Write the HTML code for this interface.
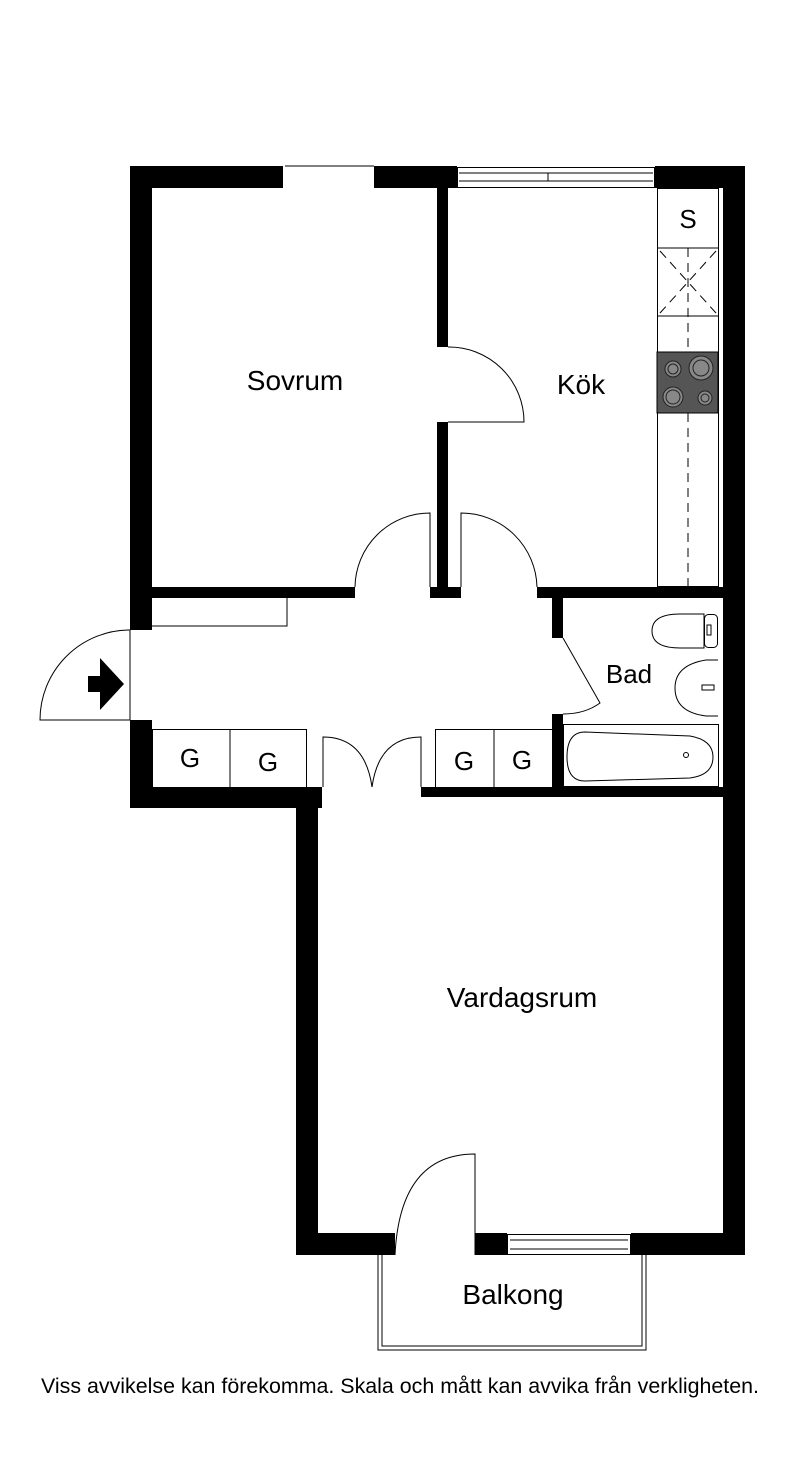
<!DOCTYPE html>
<html><head><meta charset="utf-8"><style>
html,body{margin:0;padding:0;background:#fff;}
svg{display:block;}
text{font-family:"Liberation Sans",sans-serif;fill:#000;}
</style></head><body>
<svg width="800" height="1471" viewBox="0 0 800 1471" xmlns="http://www.w3.org/2000/svg">
<rect width="800" height="1471" fill="#fff"/>
<g fill="#000">
<rect x="130" y="166" width="153" height="22"/>
<rect x="374" y="166" width="83" height="22"/>
<rect x="655" y="166" width="90" height="22"/>
<rect x="130" y="166" width="22" height="464"/>
<rect x="130" y="720" width="22" height="88"/>
<rect x="723" y="166" width="22" height="1089"/>
<rect x="437" y="188" width="11" height="159"/>
<rect x="437" y="422" width="11" height="176"/>
<rect x="152" y="587" width="203" height="11"/>
<rect x="430" y="587" width="31" height="11"/>
<rect x="537" y="587" width="186" height="11"/>
<rect x="552" y="598" width="11" height="40"/>
<rect x="552" y="714" width="11" height="83"/>
<rect x="130" y="787" width="192" height="21"/>
<rect x="421" y="787" width="324" height="10"/>
<rect x="296" y="797" width="22" height="458"/>
<rect x="296" y="1233" width="99" height="22"/>
<rect x="475" y="1233" width="32" height="22"/>
<rect x="631" y="1233" width="114" height="22"/>
</g>
<g fill="none" stroke="#000" stroke-width="1">
<line x1="285" y1="166" x2="374" y2="166"/>
<rect x="457.5" y="167.5" width="197" height="20"/>
<line x1="459" y1="173" x2="653" y2="173"/>
<line x1="459" y1="181" x2="653" y2="181"/>
<line x1="548" y1="173" x2="548" y2="181"/>
<rect x="657.5" y="188.5" width="61" height="398"/>
<line x1="657" y1="248" x2="718" y2="248"/>
<line x1="657" y1="316" x2="718" y2="316"/>
<line x1="688" y1="248" x2="688" y2="587" stroke-dasharray="9,6"/>
<line x1="660" y1="251" x2="716" y2="313" stroke-dasharray="9,6"/>
<line x1="716" y1="251" x2="660" y2="313" stroke-dasharray="9,6"/>
<path d="M448 347 A75 75 0 0 1 524 422 L448 422"/>
<path d="M430 587 L430 513 A75 75 0 0 0 355 587"/>
<path d="M461 587 L461 513 A76 76 0 0 1 537 587"/>
<path d="M152 626 L287 626 L287 598"/>
<path d="M130 630 A90 90 0 0 0 40 720 L130 720 Z"/>
<path d="M563 638 L600 703 Q585 714 563 714"/>
<rect x="152.5" y="729.5" width="154" height="58"/>
<line x1="230" y1="729" x2="230" y2="787"/>
<rect x="435.5" y="729.5" width="117" height="58"/>
<line x1="494" y1="729" x2="494" y2="787"/>
<path d="M323 787 L323 737 Q365 737 372 787"/>
<path d="M421 787 L421 737 Q379 737 372 787"/>
<path d="M704 614 L680 614 Q652 614 652 631 Q652 648 680 648 L704 648 Z"/>
<rect x="704.5" y="614.5" width="13" height="33" rx="4"/>
<rect x="707" y="625" width="4" height="10"/>
<path d="M718 660 L706 660 Q675 665 675 688 Q675 712 706 716 L718 716"/>
<rect x="702" y="685" width="12" height="5"/>
<rect x="563.5" y="724.5" width="155" height="62"/>
<path d="M585 732 L690 736 Q713 740 713 757 Q713 775 690 778 L585 781 Q567 781 567 757 Q567 732 585 732 Z"/>
<circle cx="686" cy="755" r="2.5"/>
<path d="M475 1255 L475 1154 Q400 1154 395 1255"/>
<rect x="507.5" y="1234.5" width="123" height="20"/>
<line x1="510" y1="1240" x2="628" y2="1240"/>
<line x1="510" y1="1249" x2="628" y2="1249"/>
<path d="M378 1255 L378 1350 L646 1350 L646 1255"/>
<path d="M382 1255 L382 1346 L642 1346 L642 1255"/>
</g>
<rect x="657" y="352" width="61" height="61" fill="#555" stroke="#000"/>
<g fill="#888" stroke="#222" stroke-width="1">
<circle cx="673" cy="369" r="8"/><circle cx="673" cy="369" r="5"/>
<circle cx="701" cy="368" r="12"/><circle cx="701" cy="368" r="8"/>
<circle cx="673" cy="397" r="10"/><circle cx="673" cy="397" r="7"/>
<circle cx="705" cy="398" r="7"/><circle cx="705" cy="398" r="4"/>
</g>
<path d="M88 676 L100 676 L100 658 L124 684 L100 710 L100 692 L88 692 Z" fill="#000"/>
<g font-size="28" text-anchor="middle">
<text x="295" y="390">Sovrum</text>
<text x="581" y="394">Kök</text>
<text x="522" y="1007">Vardagsrum</text>
<text x="513" y="1304">Balkong</text>
</g>
<g font-size="26" text-anchor="middle">
<text x="629" y="683">Bad</text>
<text x="688" y="228">S</text>
<text x="190" y="767">G</text>
<text x="268" y="771">G</text>
<text x="464" y="770">G</text>
<text x="522" y="769">G</text>
</g>
<text x="400" y="1393" font-size="21" text-anchor="middle" textLength="718" lengthAdjust="spacingAndGlyphs">Viss avvikelse kan förekomma. Skala och mått kan avvika från verkligheten.</text>
</svg>
</body></html>
